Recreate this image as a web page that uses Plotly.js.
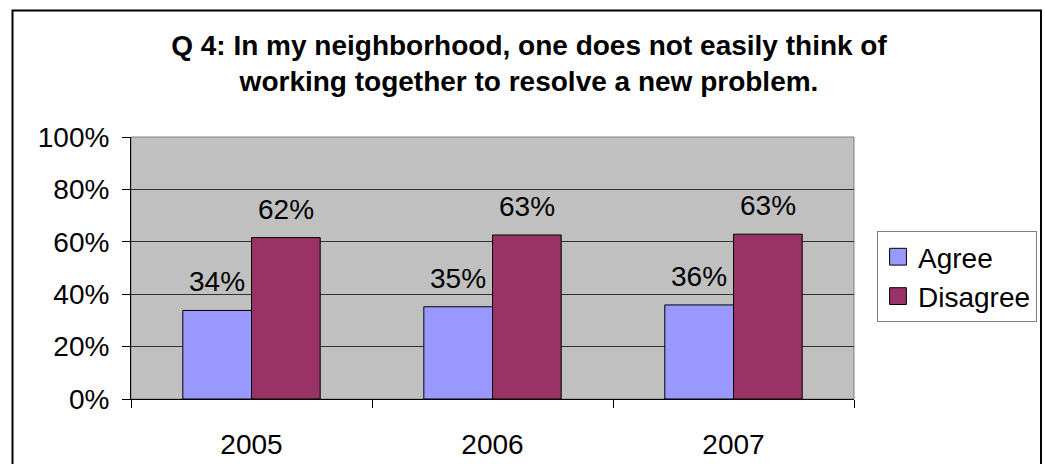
<!DOCTYPE html>
<html>
<head>
<meta charset="utf-8">
<script src="https://cdn.plot.ly/plotly-3.0.1.min.js"></script>
<style>
  html, body { margin: 0; padding: 0; background: #ffffff; }
  #chart { width: 1045px; height: 464px; }
</style>
</head>
<body>
<div id="chart"></div>
<script>
// ---- data ----
const years = ['2005', '2006', '2007'];
const agree = [0.338, 0.352, 0.359];
const disagree = [0.616, 0.626, 0.629];
const seriesNames = ['Agree', 'Disagree'];
const yTickVals = [0, 0.2, 0.4, 0.6, 0.8, 1.0];
const titleLines = [
  'Q 4: In my neighborhood, one does not easily think of',
  'working together to resolve a new problem.'
];

// ---- styles ----
const FONT = 'Arial, "Liberation Sans", sans-serif';
const FS = 28;
const colors = ['#9999FF', '#993366'];
const W = 1045, H = 464;
const M = { l: 131, r: 191, t: 137, b: 65, autoexpand: false };
const plotW = W - M.l - M.r, plotH = H - M.t - M.b;
const bargap = 0.43;
const barHalf = (plotW / years.length) * (1 - bargap) / 4;

const traces = [agree, disagree].map((vals, i) => ({
  type: 'bar',
  name: seriesNames[i],
  x: years,
  y: vals,
  marker: { color: colors[i], line: { color: '#000000', width: 1 } },
  hoverinfo: 'skip'
}));

const annotations = [];
[agree, disagree].forEach((vals, i) => {
  vals.forEach((v, j) => {
    annotations.push({
      x: j, y: v, xref: 'x', yref: 'y',   // category index on the category axis
      text: Math.round(v * 100) + '%',
      showarrow: false, xanchor: 'center', yanchor: 'bottom',
      xshift: (i === 0 ? -1 : 1) * barHalf, yshift: 11,
      font: { family: FONT, size: FS, color: '#000000' }
    });
  });
});

// helper: pixel -> paper
const px = x => (x - M.l) / plotW;
const py = y => (H - M.b - y) / plotH;

const layout = {
  width: W, height: H,
  margin: M,
  paper_bgcolor: '#ffffff',
  plot_bgcolor: '#C0C0C0',
  barmode: 'group',
  bargap: bargap,
  bargroupgap: 0,
  font: { family: FONT, size: FS, color: '#000000' },
  title: {
    text: titleLines.join('<br>'),
    font: { family: FONT, size: FS, color: '#000000', weight: 'bold' },
    x: 529 / W, xanchor: 'center', xref: 'container',
    y: 1 - 55 / H, yanchor: 'middle', yref: 'container'
  },
  xaxis: {
    type: 'category',
    categoryorder: 'array', categoryarray: years,
    range: [-0.5, years.length - 0.5],
    showline: true, linecolor: '#000000', linewidth: 1,
    ticks: 'outside', tickson: 'boundaries', ticklen: 8, tickcolor: '#000000', tickwidth: 1,
    ticklabelstandoff: 20, tickangle: 0,
    showgrid: false, zeroline: false, automargin: false,
    tickfont: { family: FONT, size: FS, color: '#000000' },
    fixedrange: true
  },
  yaxis: {
    range: [0, 1],
    tickvals: yTickVals,
    tickformat: '.0%',
    showline: true, linecolor: '#000000', linewidth: 1,
    ticks: 'outside', ticklen: 8, tickcolor: '#000000', tickwidth: 1,
    ticklabelstandoff: 7,
    showgrid: true, gridcolor: '#303030', gridwidth: 1,
    zeroline: false, automargin: false,
    tickfont: { family: FONT, size: FS, color: '#000000' },
    fixedrange: true
  },
  legend: {
    x: px(877), y: py(231), xanchor: 'left', yanchor: 'top',
    bgcolor: '#ffffff', bordercolor: '#808080', borderwidth: 1,
    font: { family: FONT, size: FS, color: '#000000' },
    tracegroupgap: 0
  },
  shapes: [
    { type: 'rect', xref: 'paper', yref: 'paper', x0: 0, x1: 1, y0: 0, y1: 1,
      line: { color: '#808080', width: 1 }, fillcolor: 'rgba(0,0,0,0)', layer: 'between' },
    { type: 'rect', xref: 'paper', yref: 'paper',
      x0: px(12.5), x1: px(1041), y0: py(480), y1: py(10.5),
      line: { color: '#000000', width: 2 }, fillcolor: 'rgba(0,0,0,0)', layer: 'above' }
  ],
  annotations: annotations,
  showlegend: true
};

Plotly.newPlot('chart', traces, layout, { displayModeBar: false, staticPlot: true }).then(gd => {
  // enlarge the legend swatches to match the reference's bigger squares
  gd.querySelectorAll('.legend .legendpoints path').forEach(p => {
    const t = p.getAttribute('transform') || '';
    p.setAttribute('transform', t + ' scale(1.4)');
    p.setAttribute('vector-effect', 'non-scaling-stroke');
  });
});
</script>
</body>
</html>
